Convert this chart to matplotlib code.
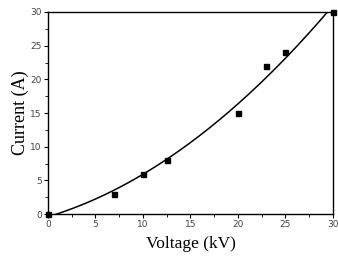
import numpy as np
import matplotlib
matplotlib.use('Agg')
import matplotlib.pyplot as plt
from matplotlib.ticker import MultipleLocator

# Measured data
voltage = [0, 7, 10, 12.5, 20, 23, 25, 30]
current = [0, 3, 6, 8, 15, 22, 24, 30]

# Quadratic fit through the points
coef = np.polyfit(voltage, current, 2)
xfit = np.linspace(0, 30, 200)
yfit = np.polyval(coef, xfit)

fig = plt.figure(figsize=(3.38, 2.66), dpi=100)
ax = fig.add_axes([0.142, 0.195, 0.843, 0.76])

ax.plot(xfit, yfit, color='black', lw=1.1)
ax.plot(voltage, current, 's', color='black', ms=3.6, clip_on=False, zorder=5)

ax.set_xlim(0, 30)
ax.set_ylim(0, 30)
ax.xaxis.set_major_locator(MultipleLocator(5))
ax.xaxis.set_minor_locator(MultipleLocator(2.5))
ax.yaxis.set_major_locator(MultipleLocator(5))
ax.yaxis.set_minor_locator(MultipleLocator(2.5))
ax.tick_params(which='major', length=3, width=0.8, labelsize=6.5, labelcolor='#444444', pad=1.5)
ax.tick_params(which='minor', length=2, width=0.6)
for s in ax.spines.values():
    s.set_linewidth(1.0)

ax.set_xlabel('Voltage (kV)', family='Liberation Serif', fontsize=12.5, labelpad=5)
ax.set_ylabel('Current (A)', family='Liberation Serif', fontsize=13, labelpad=1)

plt.savefig('out.png', dpi=100)
